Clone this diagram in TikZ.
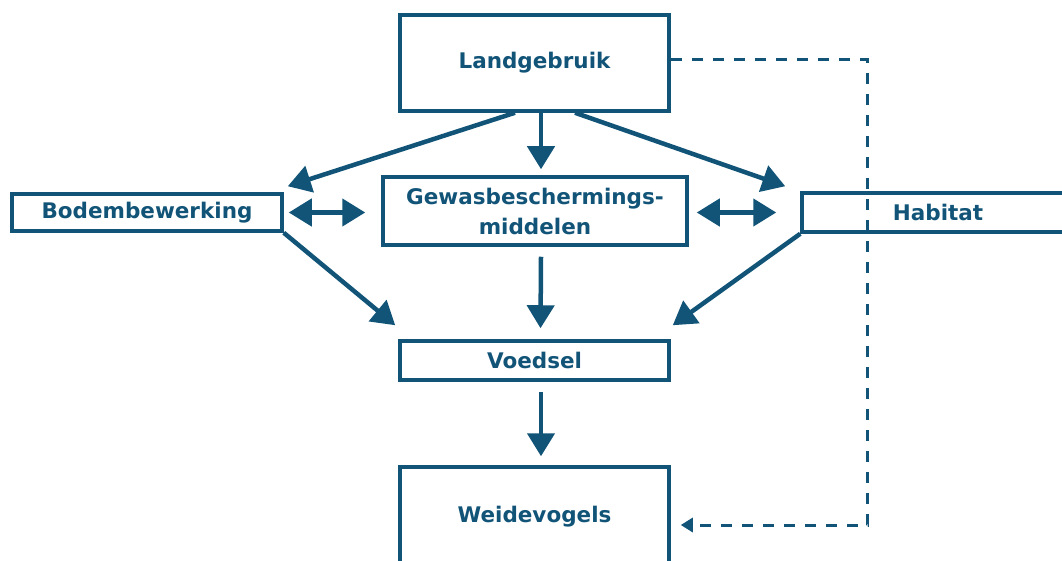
\documentclass[tikz,border=0pt]{standalone}
\usepackage{fontspec}
\setmainfont{DejaVu Sans}
\usetikzlibrary{arrows.meta,calc}
\definecolor{dblue}{RGB}{17,84,120}
\begin{document}
\begin{tikzpicture}[x=1pt,y=-1pt,
  box/.style={draw=dblue,line width=3.5pt,inner sep=0pt,align=center,
    font=\fontsize{21.5}{30}\selectfont\bfseries,text=dblue},
  arr/.style={draw=dblue,line width=4.5pt,-{Triangle[length=23pt,width=27pt]}},
  darr/.style={draw=dblue,line width=4.5pt,{Triangle[length=23pt,width=27pt]}-{Triangle[length=23pt,width=27pt]}},
  dasharr/.style={draw=dblue,line width=3pt,dash pattern=on 11pt off 10pt,-{Triangle[length=12pt,width=14pt]}}]
\useasboundingbox (0,0) rectangle (1062,561);
\node[box,minimum width=269pt,minimum height=96pt] (land) at (534.5,63) {Landgebruik};
\node[box,minimum width=270pt,minimum height=37pt] (bodem) at (147,212.5) {Bodembewerking};
\node[box,minimum width=304pt,minimum height=68pt] (gewas) at (535,211) {Gewasbeschermings-\\middelen};
\node[box,minimum width=272pt,minimum height=39pt] (hab) at (938,212.5) {Habitat};
\node[box,minimum width=269pt,minimum height=39pt] (voed) at (534.5,360.5) {Voedsel};
\node[box,minimum width=269pt,minimum height=100pt] (weide) at (534.5,517) {Weidevogels};
\coordinate (dc1) at ($(land.east)+(197,-3)$);
\coordinate (dc2) at ($(weide.east)+(197,8)$);
\coordinate (bg) at ($(gewas.west |- bodem.east)+(-16,0)$);
\coordinate (gh) at ($(hab.west |- bodem.east)+(-24,0)$);
\draw[arr] ($(land.south)+(-19.5,0)$) -- ($(bodem.north east)+(4,-6)$);
\draw[arr] ($(land.south)+(6.5,0)$) -- ($(gewas.north)+(6,-6)$);
\draw[arr] ($(land.south)+(40.5,0)$) -- ($(hab.north west)+(-15,-5)$);
\draw[darr] ($(bodem.east)+(5,0)$) -- (bg);
\draw[darr] ($(gewas.east |- bodem.east)+(8,0)$) -- (gh);
\draw[arr] (bodem.south east) -- ($(voed.north west)+(-3,-14)$);
\draw[arr] ($(gewas.south)+(6,10)$) -- ($(voed.north)+(6,-11)$);
\draw[arr] (hab.south west) -- ($(voed.north east)+(2,-14)$);
\draw[arr] ($(voed.south)+(6.5,10)$) -- ($(weide.north)+(6.5,-9)$);
\draw[dasharr] (land.east |- dc1) -- (dc1) -- (dc2) -- ($(weide.east)+(10,8)$);
\end{tikzpicture}
\end{document}
